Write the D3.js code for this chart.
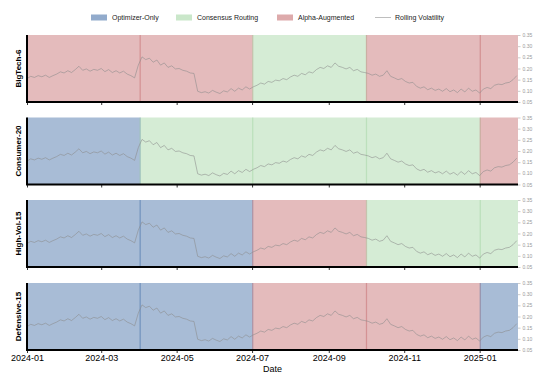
<!DOCTYPE html>
<html>
<head>
<meta charset="utf-8">
<script src="https://cdn.jsdelivr.net/npm/d3@7"></script>
<style>
  html, body { margin: 0; padding: 0; background: #fff; }
  svg { display: block; font-family: "Liberation Sans", Arial, sans-serif; }
</style>
</head>
<body>
<svg id="chart" width="535" height="374"></svg>
<script>
// Portfolios shown as stacked panels
const portfolios = ["BigTech-6", "Consumer-20", "High-Vol-15", "Defensive-15"];

// Quarterly regime windows
const periodStarts = ["2024-01-01", "2024-04-01", "2024-07-01", "2024-10-01", "2025-01-01"];
const periodEnd = "2025-02-01";

// Regime per portfolio per quarter: O = Optimizer-Only, C = Consensus Routing, A = Alpha-Augmented
const regimeBigTech = ["A", "A", "C", "A", "A"];
const regimeConsumer = ["O", "C", "C", "C", "A"];
const regimeHighVol = ["O", "O", "A", "C", "C"];
const regimeDefensive = ["O", "O", "A", "A", "O"];
const regimes = [regimeBigTech, regimeConsumer, regimeHighVol, regimeDefensive];

const regimeKeys = ["O", "C", "A"];
const regimeNames = ["Optimizer-Only", "Consensus Routing", "Alpha-Augmented"];
const regimeColors = ["#265899", "#96d096", "#bc5558"];

// Rolling volatility, sampled every 3 days from 2024-01-01
const volStart = "2024-01-01";
const volStepDays = 3;
const volatility = [
  0.155, 0.165, 0.160, 0.168, 0.163, 0.170, 0.160, 0.168, 0.175, 0.185,
  0.180, 0.190, 0.182, 0.195, 0.210, 0.192, 0.198, 0.188, 0.196, 0.192,
  0.200, 0.186, 0.195, 0.182, 0.190, 0.180, 0.188, 0.175, 0.168, 0.158,
  0.215, 0.252, 0.240, 0.246, 0.228, 0.238, 0.215, 0.225, 0.205, 0.212,
  0.198, 0.200, 0.192, 0.188, 0.180, 0.178, 0.098, 0.092, 0.096, 0.090,
  0.102, 0.094, 0.088, 0.100, 0.095, 0.110, 0.098, 0.112, 0.104, 0.118,
  0.108, 0.118, 0.125, 0.135, 0.130, 0.142, 0.138, 0.148, 0.145, 0.155,
  0.150, 0.162, 0.170, 0.165, 0.178, 0.172, 0.185, 0.180, 0.195, 0.205,
  0.200, 0.212, 0.205, 0.225, 0.210, 0.205, 0.198, 0.205, 0.190, 0.196,
  0.185, 0.182, 0.178, 0.170, 0.175, 0.165, 0.170, 0.190, 0.165, 0.158,
  0.150, 0.155, 0.142, 0.135, 0.138, 0.120, 0.112, 0.118, 0.105, 0.112,
  0.102, 0.108, 0.098, 0.110, 0.096, 0.104, 0.092, 0.108, 0.095, 0.112,
  0.098, 0.104, 0.090, 0.108, 0.115, 0.110, 0.125, 0.130, 0.128, 0.135,
  0.138, 0.150, 0.168
];

const xTickDates = ["2024-01-01", "2024-03-01", "2024-05-01", "2024-07-01", "2024-09-01", "2024-11-01", "2025-01-01"];
const yTicks = [0.05, 0.10, 0.15, 0.20, 0.25, 0.30, 0.35];

const parse = d3.utcParse("%Y-%m-%d");
const fmtX = d3.utcFormat("%Y-%m");

const svg = d3.select("#chart");
const margin = { left: 27, right: 17 };
const width = 535;
const panelTops = [35, 117.5, 200, 283];
const panelH = 67;

const x = d3.scaleUtc()
  .domain([parse("2024-01-01"), parse(periodEnd)])
  .range([margin.left, width - margin.right]);

const y = d3.scaleLinear().domain([0.05, 0.35]);

const volPoints = volatility.map((v, i) => ({
  date: d3.utcDay.offset(parse(volStart), i * volStepDays),
  value: v
}));

const starts = periodStarts.map(parse);
const ends = starts.slice(1).concat([parse(periodEnd)]);

portfolios.forEach((name, p) => {
  const top = panelTops[p];
  y.range([top + panelH, top]);
  const g = svg.append("g");

  // Regime spans (each runs one day past its quarter, so adjacent spans overlap slightly)
  g.selectAll("rect.span")
    .data(regimes[p].map((r, i) => ({ r, s: starts[i], e: ends[i] })))
    .join("rect")
    .attr("class", "span")
    .attr("x", d => x(d.s))
    .attr("width", d => {
      const e = d.e >= parse(periodEnd) ? d.e : d3.utcDay.offset(d.e, 1);
      return Math.min(x(e), width - margin.right) - x(d.s);
    })
    .attr("y", top)
    .attr("height", panelH)
    .attr("fill", d => regimeColors[regimeKeys.indexOf(d.r)])
    .attr("fill-opacity", 0.4);

  // Volatility line
  const line = d3.line().x(d => x(d.date)).y(d => y(d.value));
  g.append("path")
    .datum(volPoints)
    .attr("d", line)
    .attr("fill", "none")
    .attr("stroke", "#8a8a8a")
    .attr("stroke-opacity", 0.7)
    .attr("stroke-width", 0.8);

  // Right-side volatility axis
  const yAxis = g.append("g")
    .attr("transform", `translate(${width - margin.right},0)`)
    .call(d3.axisRight(y).tickValues(yTicks).tickFormat(d3.format(".2f")).tickSize(2.5).tickPadding(2));
  yAxis.select(".domain").remove();
  yAxis.selectAll("line").attr("stroke", "#aaa").attr("stroke-width", 0.6);
  yAxis.selectAll("text").attr("fill", "#999").attr("font-size", 5).attr("font-family", "Liberation Sans, Arial, sans-serif");

  // Bottom date axis
  const xAxis = g.append("g")
    .attr("transform", `translate(0,${top + panelH})`)
    .call(d3.axisBottom(x).tickValues(xTickDates.map(parse)).tickFormat(fmtX).tickSize(3).tickPadding(2));
  xAxis.select(".domain").remove();
  xAxis.selectAll("line").attr("stroke", "#000").attr("stroke-width", 0.8);
  xAxis.selectAll("text")
    .attr("font-size", 9)
    .attr("fill", "#000")
    .attr("font-family", "Liberation Sans, Arial, sans-serif")
    .style("display", p === portfolios.length - 1 ? null : "none");

  // Spines: left and bottom
  g.append("line")
    .attr("x1", margin.left).attr("x2", margin.left)
    .attr("y1", top).attr("y2", top + panelH)
    .attr("stroke", "#000").attr("stroke-width", 2);
  g.append("line")
    .attr("x1", margin.left - 1).attr("x2", width - margin.right)
    .attr("y1", top + panelH).attr("y2", top + panelH)
    .attr("stroke", "#000").attr("stroke-width", 2);

  // Portfolio label
  g.append("text")
    .attr("transform", `translate(21,${top + panelH / 2}) rotate(-90)`)
    .attr("text-anchor", "middle")
    .attr("font-size", 8)
    .attr("font-weight", "bold")
    .text(name);
});

// X axis title
svg.append("text")
  .attr("x", (margin.left + width - margin.right) / 2)
  .attr("y", 372)
  .attr("text-anchor", "middle")
  .attr("font-size", 9)
  .text("Date");

// Legend
const legend = svg.append("g").attr("font-size", 7);
const legendItems = [
  { label: regimeNames[0], color: regimeColors[0], type: "patch", x: 91 },
  { label: regimeNames[1], color: regimeColors[1], type: "patch", x: 176 },
  { label: regimeNames[2], color: regimeColors[2], type: "patch", x: 277 },
  { label: "Rolling Volatility", color: "#8a8a8a", type: "line", x: 375 }
];
legendItems.forEach(d => {
  if (d.type === "patch") {
    legend.append("rect")
      .attr("x", d.x).attr("y", 14.5).attr("width", 16).attr("height", 6)
      .attr("fill", d.color).attr("fill-opacity", 0.5);
  } else {
    legend.append("line")
      .attr("x1", d.x).attr("x2", d.x + 16).attr("y1", 17.5).attr("y2", 17.5)
      .attr("stroke", d.color).attr("stroke-opacity", 0.7).attr("stroke-width", 0.8);
  }
  legend.append("text")
    .attr("x", d.x + (d.type === "patch" ? 21 : 20))
    .attr("y", 20)
    .attr("fill", "#222")
    .text(d.label);
});
</script>
</body>
</html>
